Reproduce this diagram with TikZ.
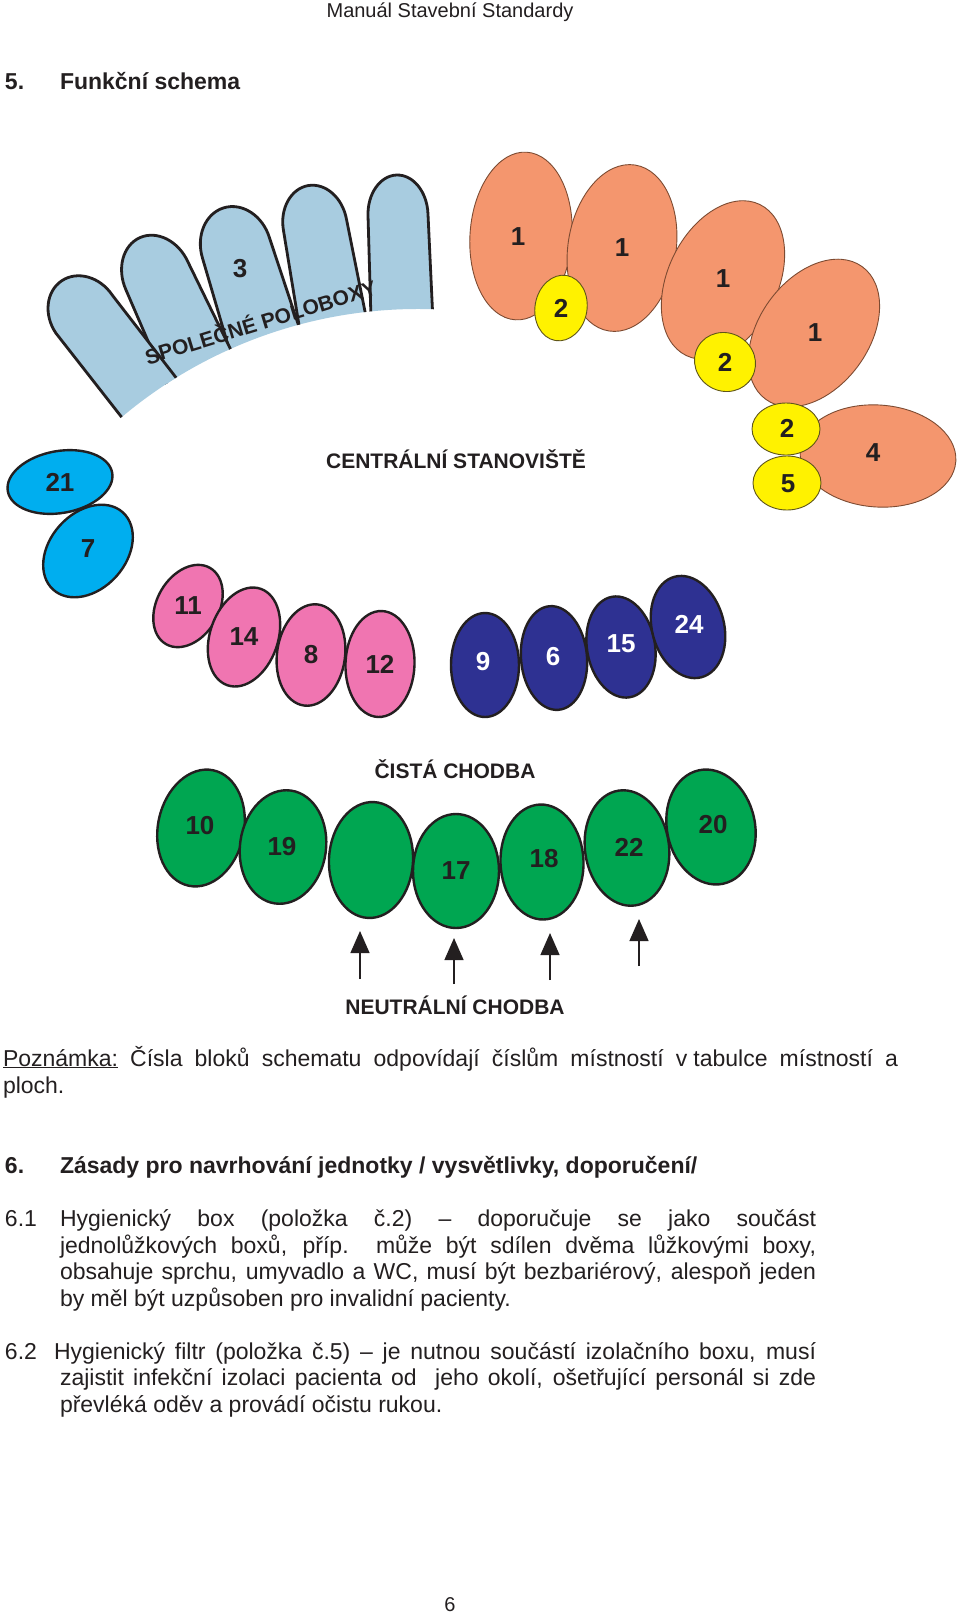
\documentclass[tikz,border=0pt]{standalone}
\usepackage{fontspec}
\setmainfont{Liberation Sans}
\usetikzlibrary{shapes.geometric,arrows.meta}
\definecolor{lblue}{RGB}{168,204,224}
\definecolor{orngc}{RGB}{244,150,110}
\definecolor{yelc}{RGB}{255,242,0}
\definecolor{cync}{RGB}{0,174,239}
\definecolor{pnkc}{RGB}{240,117,177}
\definecolor{nvyc}{RGB}{46,49,146}
\definecolor{grnc}{RGB}{0,166,81}
\definecolor{ink}{RGB}{35,31,32}
\definecolor{obrd}{RGB}{125,75,50}
\definecolor{ybrd}{RGB}{95,85,25}
\tikzset{
  x=1pt, y=1pt,
  every node/.style={inner sep=0pt, outer sep=0pt},
  room/.style={ellipse, inner sep=0pt, draw=ink, line width=2.4pt},
  oroom/.style={ellipse, inner sep=0pt, draw=obrd, line width=0.9pt, fill=orngc},
  yroom/.style={ellipse, inner sep=0pt, draw=ybrd, line width=0.9pt, fill=yelc},
  num/.style={font=\fontsize{26}{26}\selectfont\bfseries, text=ink},
  numw/.style={num, text=white},
  lbl/.style={font=\fontsize{21}{21}\selectfont\bfseries, text=ink, anchor=base},
  body/.style={font=\fontsize{23}{27}\selectfont, text=ink, anchor=base west},
  head/.style={font=\fontsize{23}{27}\selectfont\bfseries, text=ink, anchor=base west},
  arr/.style={-{Triangle[width=19pt,length=22pt]}, line width=1.3pt, draw=ink},
  fingerline/.style={fill=lblue, draw=ink, line width=2.8pt, line join=round},
}
% #1,#2 dome centre (px, y down), #3 tilt, #4 half width, #5 dome height,
% #6 left / #7 right half width at the foot
\newcommand\polfinger[7]{%
  \begin{scope}[shift={(#1,-#2)}, rotate=#3]
    \draw[fingerline] (-#6,-170) -- (-#4,0)
      arc[start angle=180, end angle=0, x radius=#4, y radius=#5]
      -- (#7,-170) -- cycle;
  \end{scope}}
\begin{document}
\begin{tikzpicture}
\fill[white] (0,0) rectangle (960,-1615);
\useasboundingbox (0,0) rectangle (960,-1615);

% header
\node[font=\fontsize{20}{24}\selectfont, text=ink, anchor=base] (hdr) at (450,-17.5) {Manuál Stavební Standardy};
\node[head] (s5n) at (5,-89) {5.};
\node[head] (s5t) at (60,-89) {Funkční schema};

% common half-boxes (fingers)
\begin{scope}
  \clip (65.6,-473.3) arc[start angle=140, end angle=85, radius=460]
        -- (470,-100) -- (0,-100) -- (0,-473.3) -- cycle;
  \polfinger{398}{215}{2}{30}{40}{31}{32}
  \polfinger{315}{225}{10}{32}{40}{34}{36}
  \polfinger{236}{248}{17}{35}{42}{37}{39}
  \polfinger{157}{276}{24}{34}{42}{36}{40}
  \polfinger{84}{314}{34}{34}{40}{22}{45}
\end{scope}
\node[num] (t3) at (240,-269) {3};
\node[font=\fontsize{21}{21}\selectfont\bfseries, text=ink, rotate=17] (spol) at (260,-321) {SPOLEČNÉ POLOBOXY};

% orange / yellow rooms
\node[oroom, minimum width=102pt, minimum height=168pt, rotate=-4] (e1) at (521,-236) {};
\node[oroom, minimum width=108pt, minimum height=168pt, rotate=-9] (e2) at (622,-248) {};
\node[yroom, minimum width=52pt, minimum height=66pt, rotate=-10] (y1) at (561,-308) {};
\node[oroom, minimum width=110pt, minimum height=168pt, rotate=-26] (e3) at (723,-280) {};
\node[oroom, minimum width=110pt, minimum height=164pt, rotate=-36] (e4) at (814,-333) {};
\node[yroom, minimum width=62pt, minimum height=58pt, rotate=-30] (y2) at (725,-362) {};
\node[oroom, minimum width=156pt, minimum height=102pt, rotate=-4] (e5) at (878,-456) {};
\node[yroom, minimum width=68pt, minimum height=52pt] (y3) at (786,-429) {};
\node[yroom, minimum width=68pt, minimum height=54pt] (y4) at (787,-483) {};
\node[num] (te1) at (518,-237) {1};
\node[num] (te2) at (622,-248) {1};
\node[num] (te3) at (723,-279) {1};
\node[num] (te4) at (815,-333) {1};
\node[num] (ty1) at (561,-308) {2};
\node[num] (ty2) at (725,-362) {2};
\node[num] (ty3) at (787,-428) {2};
\node[num] (ty4) at (788,-484) {5};
\node[num] (te5) at (873,-453) {4};

\node[lbl] (cs) at (456,-468.5) {CENTRÁLNÍ STANOVIŠTĚ};

% cyan rooms
\node[room, fill=cync, minimum width=106pt, minimum height=62pt, rotate=10] (c21) at (60,-482) {};
\node[room, fill=cync, minimum width=104pt, minimum height=76pt, rotate=48] (c7) at (88,-551) {};
\node[num] (tc21) at (c21.center) {21};
\node[num] (tc7) at (88,-549) {7};

% pink rooms
\node[room, fill=pnkc, minimum width=62pt, minimum height=88pt, rotate=-30] (p11) at (188,-606) {};
\node[room, fill=pnkc, minimum width=68pt, minimum height=102pt, rotate=-19] (p14) at (244,-637) {};
\node[room, fill=pnkc, minimum width=68pt, minimum height=102pt, rotate=-8] (p8) at (311,-655) {};
\node[room, fill=pnkc, minimum width=69pt, minimum height=106pt, rotate=-2] (p12) at (380,-664) {};
\node[num] (tp11) at (p11.center) {11};
\node[num] (tp14) at (p14.center) {14};
\node[num] (tp8) at (p8.center) {8};
\node[num] (tp12) at (p12.center) {12};

% navy rooms
\node[room, fill=nvyc, minimum width=68pt, minimum height=104pt] (n9) at (485,-665) {};
\node[room, fill=nvyc, minimum width=66pt, minimum height=104pt, rotate=5] (n6) at (554,-658) {};
\node[room, fill=nvyc, minimum width=68pt, minimum height=102pt, rotate=10] (n15) at (621,-647) {};
\node[room, fill=nvyc, minimum width=72pt, minimum height=104pt, rotate=15] (n24) at (688,-627) {};
\node[numw] (tn9) at (483,-662) {9};
\node[numw] (tn6) at (553,-657) {6};
\node[numw] (tn15) at (621,-644) {15};
\node[numw] (tn24) at (689,-624) {24};

% green rooms
\node[lbl] (cc) at (455,-778) {ČISTÁ CHODBA};
\node[room, fill=grnc, minimum width=86pt, minimum height=118pt, rotate=-12] (g10) at (201,-828) {};
\node[room, fill=grnc, minimum width=86pt, minimum height=114pt, rotate=-8] (g19) at (283,-847) {};
\node[room, fill=grnc, minimum width=84pt, minimum height=116pt, rotate=-3] (gb) at (371,-860) {};
\node[room, fill=grnc, minimum width=86pt, minimum height=114pt] (g17) at (456,-871) {};
\node[room, fill=grnc, minimum width=83pt, minimum height=115pt, rotate=2] (g18) at (542,-862) {};
\node[room, fill=grnc, minimum width=84pt, minimum height=116pt, rotate=8] (g22) at (627,-848) {};
\node[room, fill=grnc, minimum width=88pt, minimum height=116pt, rotate=12] (g20) at (711,-827) {};
\node[num] (tg10) at (200,-826) {10};
\node[num] (tg19) at (282,-847) {19};
\node[num] (tg17) at (456,-871) {17};
\node[num] (tg18) at (544,-859) {18};
\node[num] (tg22) at (629,-847) {22};
\node[num] (tg20) at (713,-825) {20};

% arrows from the neutral corridor
\coordinate (a1s) at (360,-979); \coordinate (a1e) at (360,-931);
\coordinate (a2s) at (454,-984); \coordinate (a2e) at (454,-938);
\coordinate (a3s) at (550,-980); \coordinate (a3e) at (550,-933);
\coordinate (a4s) at (639,-966); \coordinate (a4e) at (639,-919);
\draw[arr] (a1s) -- (a1e);
\draw[arr] (a2s) -- (a2e);
\draw[arr] (a3s) -- (a3e);
\draw[arr] (a4s) -- (a4e);
\node[lbl] (nc) at (455,-1014) {NEUTRÁLNÍ CHODBA};

% text
\node[body] (pz1) at (3,-1066) {\makebox[895pt][s]{\underline{Poznámka:} Čísla bloků schematu odpovídají číslům místností v\hspace{6pt}tabulce místností a}};
\node[body] (pz2) at (3,-1093) {ploch.};
\node[head] (s6n) at (5,-1173) {6.};
\node[head] (s6t) at (60,-1173) {Zásady pro navrhování jednotky / vysvětlivky, doporučení/};

\node[body] (n61) at (5,-1226) {6.1};
\node[body] (l611) at (60,-1226) {\makebox[756pt][s]{Hygienický box (položka č.2) – doporučuje se jako součást}};
\node[body] (l612) at (60,-1253) {\makebox[756pt][s]{jednolůžkových boxů, příp.\ \ může být sdílen dvěma lůžkovými boxy,}};
\node[body] (l613) at (60,-1279.5) {\makebox[756pt][s]{obsahuje sprchu, umyvadlo a WC, musí být bezbariérový, alespoň jeden}};
\node[body] (l614) at (60,-1306) {by měl být uzpůsoben pro invalidní pacienty.};

\node[body] (n62) at (5,-1359) {6.2};
\node[body] (l621) at (54,-1359) {\makebox[762pt][s]{Hygienický filtr (položka č.5) – je nutnou součástí izolačního boxu, musí}};
\node[body] (l622) at (60,-1385.5) {\makebox[756pt][s]{zajistit infekční izolaci pacienta od\ \ jeho okolí, ošetřující personál si zde}};
\node[body] (l623) at (60,-1412.5) {převléká oděv a provádí očistu rukou.};

\node[font=\fontsize{20}{24}\selectfont, text=ink, anchor=base] (pg) at (450,-1611) {6};
\end{tikzpicture}
\end{document}
